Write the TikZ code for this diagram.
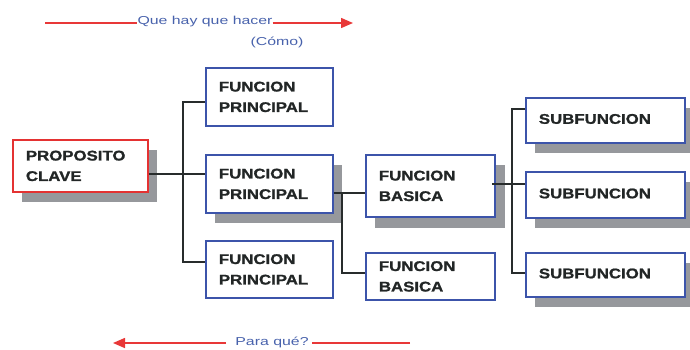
\documentclass[tikz,border=0pt]{standalone}
\usepackage{fontspec}
\setmainfont{Liberation Sans}
\newfontfamily\boxfont{Liberation Sans Bold}[FakeStretch=1.2,FakeBold=1.2]
\newfontfamily\notefont{Liberation Sans}[FakeStretch=1.38]
\usetikzlibrary{arrows.meta}
\definecolor{boxblue}{RGB}{60,84,170}
\definecolor{boxred}{RGB}{228,50,50}
\definecolor{shadowgray}{RGB}{150,152,156}
\definecolor{linegray}{RGB}{40,44,44}
\definecolor{arrowred}{RGB}{232,56,56}
\definecolor{noteblue}{RGB}{72,98,172}
\definecolor{textdark}{RGB}{34,38,38}
\begin{document}
\begin{tikzpicture}[x=1pt,y=-1pt,
  boxstyle/.style={draw=boxblue,line width=1.8pt,fill=white,rectangle,inner ysep=0pt,inner xsep=13pt,
    align=left,font=\boxfont\fontsize{14}{20.5}\selectfont,text=textdark,anchor=north west},
  conn/.style={draw=linegray,line width=1.7pt},
  redarrow/.style={draw=arrowred,line width=1.5pt},
  note/.style={font=\notefont\fontsize{11.5}{13}\selectfont,text=noteblue,inner sep=0pt}]
\useasboundingbox (0,0) rectangle (690,349);
% shadows
\fill[shadowgray] (22,150) rectangle (157,202);
\fill[shadowgray] (215,165) rectangle (342,223);
\fill[shadowgray] (375,165) rectangle (505,228);
\fill[shadowgray] (535,108) rectangle (694,153);
\fill[shadowgray] (535,182) rectangle (694,228);
\fill[shadowgray] (535,263) rectangle (694,307);
% junction coordinates
\coordinate (j1top) at (183,102);
\coordinate (j1mid) at (183,174);
\coordinate (j1bot) at (183,262);
\coordinate (j2top) at (342,193);
\coordinate (j2bot) at (342,273);
\coordinate (j3top) at (512,109);
\coordinate (j3mid) at (512,184);
\coordinate (j3bot) at (512,273);
% boxes
\node[boxstyle,draw=boxred,text width=109pt,minimum height=52pt] (pc) at (12,139) {PROPOSITO\\CLAVE};
\node[boxstyle,text width=101pt,minimum height=58pt] (fp1) at (205,67) {FUNCION\\PRINCIPAL};
\node[boxstyle,text width=101pt,minimum height=58pt] (fp2) at (205,154) {FUNCION\\PRINCIPAL};
\node[boxstyle,text width=101pt,minimum height=57pt] (fp3) at (205,240) {FUNCION\\PRINCIPAL};
\node[boxstyle,text width=103pt,minimum height=62pt] (fb1) at (365,154) {FUNCION\\BASICA};
\node[boxstyle,text width=103pt,minimum height=47pt] (fb2) at (365,252) {FUNCION\\BASICA};
\node[boxstyle,text width=133pt,minimum height=45pt] (sf1) at (525,97) {\raisebox{3pt}{SUBFUNCION}};
\node[boxstyle,text width=133pt,minimum height=46pt] (sf2) at (525,171) {\raisebox{3pt}{SUBFUNCION}};
\node[boxstyle,text width=133pt,minimum height=44pt] (sf3) at (525,252) {\raisebox{3pt}{SUBFUNCION}};
% connectors
\draw[conn] (pc.east |- j1mid) -- (j1mid);
\draw[conn] (fp1.west |- j1top) -- (j1top) -- (j1bot) -- (fp3.west |- j1bot);
\draw[conn] (j1mid) -- (fp2.west |- j1mid);
\draw[conn] (fp2.east |- j2top) -- (fb1.west |- j2top);
\draw[conn] (j2top) -- (j2bot) -- (fb2.west |- j2bot);
\draw[conn] ([xshift=-4pt]fb1.east |- j3mid) -- (sf2.west |- j3mid);
\draw[conn] (sf1.west |- j3top) -- (j3top) -- (j3bot) -- (sf3.west |- j3bot);
% top arrow
\node[note] (qh) at (205,22) {Que hay que hacer};
\node[note] (como) at (277,42) {(Cómo)};
\coordinate (topstart) at (45,23);
\coordinate (topend) at (353,23);
\draw[redarrow] (topstart) -- (qh.west |- topstart);
\draw[redarrow,-{Triangle[length=12pt,width=10pt]}] (qh.east |- topend) -- (topend);
% bottom arrow
\node[note] (pq) at (272,342) {Para qué?};
\coordinate (botstart) at (410,343);
\coordinate (botend) at (113,343);
\draw[redarrow] (botstart) -- ([xshift=3pt]pq.east |- botstart);
\draw[redarrow,-{Triangle[length=12pt,width=10pt]}] ([xshift=-9pt]pq.west |- botend) -- (botend);
\end{tikzpicture}
\end{document}
